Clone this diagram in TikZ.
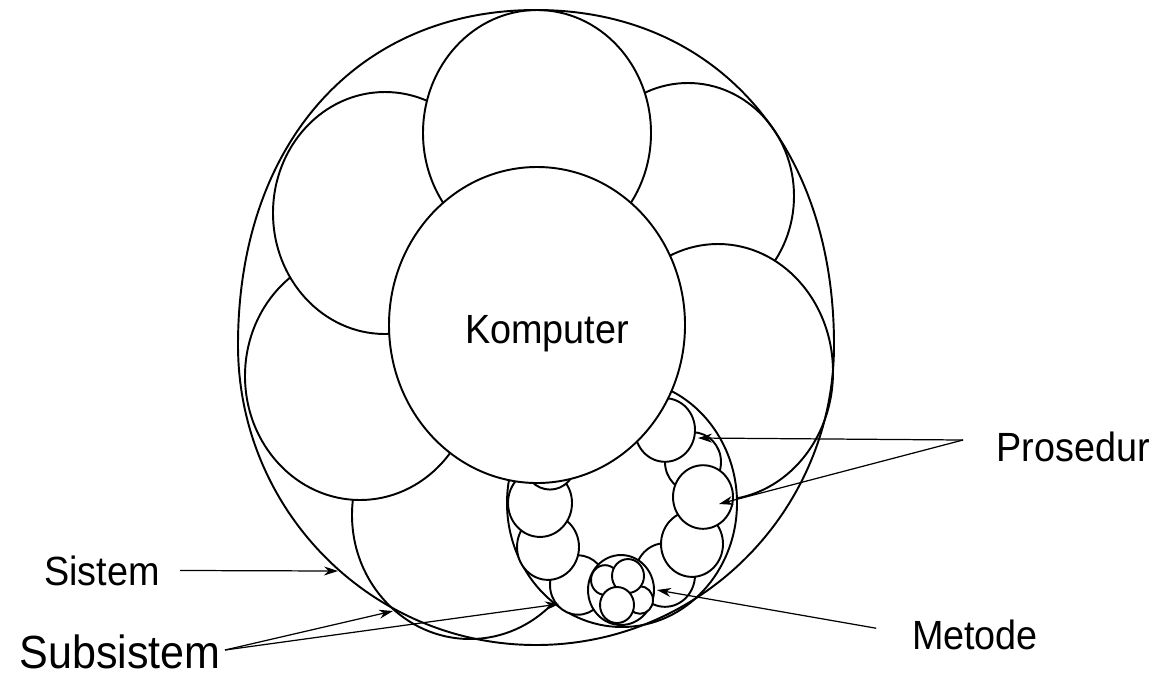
\documentclass[tikz,border=0pt]{standalone}
\usepackage{fontspec}
\setmainfont{Liberation Sans}
\usetikzlibrary{arrows.meta}

\begin{document}
\begin{tikzpicture}[
  x=0.02cm, y=-0.02cm,
  ring/.style={draw, line width=1.1pt, fill=white},
  rr/.style={x radius=#1, y radius=1.06*#1},
  lbl/.style={font=\fontsize{21.5}{24}\selectfont, inner sep=0pt, anchor=base, yscale=1.08, transform shape},
  pointer/.style={-{Stealth[length=2.8mm, width=1.8mm]}, line width=0.7pt}
]
\useasboundingbox (0,0) rectangle (1155,677);

% subsystems round the computer
\draw[ring] (470,515) circle [x radius=118, y radius=124];
\draw[ring] (360,376) circle [x radius=115, y radius=124];
\draw[ring] (688,196) circle [x radius=106, y radius=113];
\draw[ring] (718,372) circle [x radius=115, y radius=128];
\draw[ring] (385,213) circle [x radius=112, y radius=121];
\draw[ring] (537,133) circle [x radius=114, y radius=123];
\draw[ring] (622,503) circle [x radius=115, y radius=124];

% procedures inside the subsystem
\foreach \px/\py/\pr in {693/462/28, 665/575/30, 692/544/31, 703/497/30, 665/430/30,
                         578/585/28, 548/547/31, 540/503/32, 550/462/26}
  \draw[ring] (\px,\py) circle [rr=\pr];

% methods
\draw[ring] (621,590) circle [rr=33];
\foreach \px/\py/\pr in {605/580/14, 640/600/13, 628/576/16, 617/605/17}
  \draw[ring] (\px,\py) circle [rr=\pr];

\draw[ring] (537,325) circle [x radius=148, y radius=158];
\node[lbl] (komputer) at (547,343) {Komputer};

% system boundary
\draw[line width=1.1pt] (238,345) .. controls (238,144) and (357,10) .. (536,10)
  .. controls (715,10) and (834,144) .. (834,345)
  arc [start angle=0, end angle=180, x radius=298, y radius=300] -- cycle;

% labels
\node[lbl] (sistem) at (102,585) {Sistem};
\node[lbl, font=\fontsize{24.5}{28}\selectfont] (subsistem) at (120,668) {Subsistem};
\node[lbl] (prosedur) at (1073,461) {Prosedur};
\node[lbl] (metode) at (975,649) {Metode};

\coordinate (sistip) at (338,571);
\coordinate (subfan) at (225,650);
\coordinate (subtip1) at (393,611);
\coordinate (subtip2) at (559,604);
\coordinate (prosfan) at (963,440);
\coordinate (prostip1) at (698,438);
\coordinate (prostip2) at (719,504);
\coordinate (mettip) at (657,590);

\draw[pointer, shorten <=0.4cm] (sistem.east) -- (sistip);
\draw[pointer] (subfan) -- (subtip1);
\draw[pointer] (subfan) -- (subtip2);
\draw[pointer] (prosfan) -- (prostip1);
\draw[pointer] (prosfan) -- (prostip2);
\draw[pointer, shorten <=0.72cm] (metode.west) -- (mettip);
\end{tikzpicture}
\end{document}
